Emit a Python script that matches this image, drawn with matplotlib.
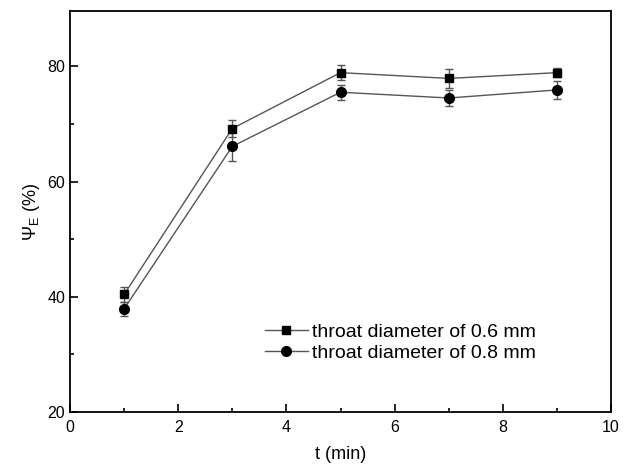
import matplotlib
matplotlib.use("Agg")
import matplotlib.pyplot as plt
from matplotlib.ticker import MultipleLocator

plt.rcParams['font.family'] = ['Liberation Sans', 'DejaVu Sans']
plt.rcParams['mathtext.default'] = 'regular'

# data
t = [1, 3, 5, 7, 9]
psi_06 = [40.4, 69.2, 78.9, 77.9, 78.9]
err_06 = [1.3, 1.5, 1.3, 1.7, 0.8]
psi_08 = [37.9, 66.1, 75.5, 74.5, 75.9]
err_08 = [1.2, 2.5, 1.3, 1.4, 1.6]
labels = ['throat diameter of 0.6 mm', 'throat diameter of 0.8 mm']

fig = plt.figure(figsize=(6.27, 4.67), dpi=100)
ax = fig.add_axes([70 / 627, 55 / 467, 541 / 627, 401 / 467])

ax.errorbar(t, psi_06, yerr=err_06, color='#555555', lw=1.0, marker='s',
            ms=6, mfc='black', mec='black', ecolor='#555555', elinewidth=1.0,
            capsize=3, label=labels[0])
ax.errorbar(t, psi_08, yerr=err_08, color='#555555', lw=1.0, marker='o',
            ms=7, mfc='black', mec='black', ecolor='#555555', elinewidth=1.0,
            capsize=3, label=labels[1])

ax.set_xlim(0, 10)
ax.set_ylim(20, 89.6)
ax.xaxis.set_major_locator(MultipleLocator(2))
ax.xaxis.set_minor_locator(MultipleLocator(1))
ax.yaxis.set_major_locator(MultipleLocator(20))
ax.yaxis.set_minor_locator(MultipleLocator(10))
ax.tick_params(which='both', direction='in', labelsize=11.5, width=1.2)
ax.tick_params(which='major', length=6)
ax.tick_params(which='minor', length=3)
ax.tick_params(axis='x', pad=6)
for s in ax.spines.values():
    s.set_linewidth(1.3)

ax.set_xlabel('t (min)', fontsize=13, labelpad=8)
ax.set_ylabel('Ψ$_E$ (%)', fontsize=13)

handles, lbls = ax.get_legend_handles_labels()
handles = [h[0] for h in handles]
ax.legend(handles, lbls, loc='upper left', bbox_to_anchor=(0.36, 0.222),
          frameon=False, fontsize=14, handlelength=2.2, handletextpad=0.25,
          labelspacing=0.2, borderaxespad=0, borderpad=0)

fig.savefig('out.png', dpi=100)
